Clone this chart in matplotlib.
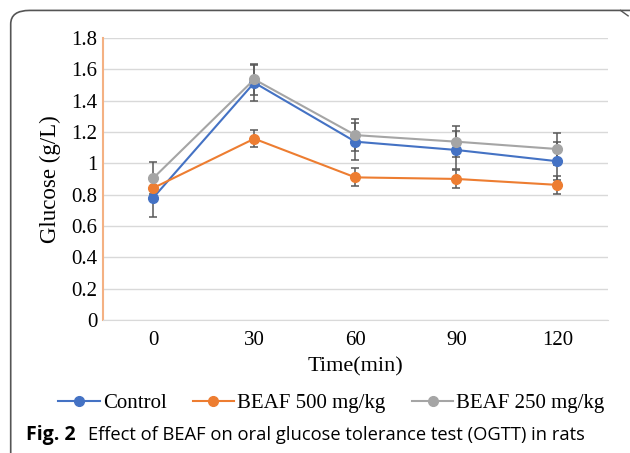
import matplotlib.pyplot as plt
from matplotlib.patches import FancyBboxPatch

times = ["0", "30", "60", "90", "120"]
control = [0.78, 1.515, 1.138, 1.085, 1.013]
control_err = [0.12, 0.115, 0.12, 0.12, 0.12]
beaf500 = [0.842, 1.157, 0.91, 0.90, 0.862]
beaf500_err = [0.055, 0.055, 0.057, 0.057, 0.057]
beaf250 = [0.905, 1.536, 1.18, 1.138, 1.091]
beaf250_err = [0.10, 0.10, 0.10, 0.10, 0.105]

plt.rcParams["font.family"] = "Liberation Serif"

fig = plt.figure(figsize=(6.3, 4.53), dpi=100)
ax = fig.add_axes([0.163, 0.294, 0.802, 0.622])

x = list(range(len(times)))
series = [
    ("Control", control, control_err, "#4472C4"),
    ("BEAF 500 mg/kg", beaf500, beaf500_err, "#ED7D31"),
    ("BEAF 250 mg/kg", beaf250, beaf250_err, "#A5A5A5"),
]
handles = []
for name, vals, err, col in series:
    ax.errorbar(x, vals, yerr=err, fmt="none", ecolor="#595959",
                elinewidth=1.1, capsize=3, capthick=1.1, zorder=3)
    h, = ax.plot(x, vals, "-o", color=col, lw=1.5, ms=7, label=name, zorder=4)
    handles.append(h)

ax.set_xlim(-0.5, 4.5)
ax.set_ylim(0, 1.8)
ax.set_yticks([0, 0.2, 0.4, 0.6, 0.8, 1, 1.2, 1.4, 1.6, 1.8])
ax.set_yticklabels(["0", "0.2", "0.4", "0.6", "0.8", "1", "1.2", "1.4", "1.6", "1.8"])
ax.set_xticks(x)
ax.set_xticklabels(times)
ax.tick_params(length=0, labelsize=15)
ax.tick_params(axis="y", pad=4)
ax.tick_params(axis="x", pad=8)
ax.yaxis.grid(True, color="#D9D9D9", lw=1)
ax.set_axisbelow(True)
for s in ["top", "right"]:
    ax.spines[s].set_visible(False)
ax.spines["left"].set_color("#F4B183")
ax.spines["left"].set_linewidth(1.5)
ax.spines["bottom"].set_color("#D9D9D9")
ax.set_xlabel("Time(min)", fontsize=16, labelpad=5)
ax.set_ylabel("Glucose (g/L)", fontsize=16.5, labelpad=7)

fig.legend(handles=handles, loc="center", bbox_to_anchor=(0.526, 0.11), ncol=3,
           frameon=False, fontsize=15, handlelength=2.0, handletextpad=0.15,
           columnspacing=1.25)

fig.text(0.041, 0.04, "Fig. 2", fontsize=14, fontweight="bold",
         family="Open Sans", va="center")
fig.text(0.14, 0.04, "Effect of BEAF on oral glucose tolerance test (OGTT) in rats",
         fontsize=13.2, family="Open Sans", va="center")

# journal frame: left and top edges with rounded corner
frame = FancyBboxPatch((0.017, -0.2), 1.2, 1.177, boxstyle="round,pad=0,rounding_size=0.03",
                       transform=fig.transFigure, fill=False, ec="#555555", lw=1.2)
fig.patches.append(frame)
fig.lines.append(plt.Line2D([0.985, 0.997], [0.977, 0.965], transform=fig.transFigure,
                            color="#555555", lw=1.0))

fig.savefig("out.png", dpi=100)
